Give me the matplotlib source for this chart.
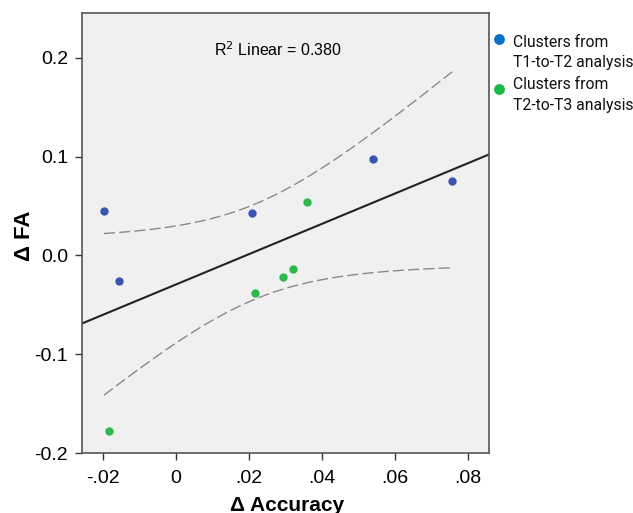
import numpy as np
import matplotlib
matplotlib.use("Agg")
import matplotlib.pyplot as plt
from matplotlib.lines import Line2D

plt.rcParams['font.family'] = ['Liberation Sans', 'DejaVu Sans']
LEG_FAMILY, LEG_SIZE = ['Roboto', 'DejaVu Sans'], 11.3

# Data
blue_x = [-0.0197, -0.0156, 0.0210, 0.0539, 0.0757]
blue_y = [0.0446, -0.0263, 0.0432, 0.0973, 0.0750]
green_x = [-0.0182, 0.0216, 0.0293, 0.0321, 0.0359]
green_y = [-0.1776, -0.0380, -0.0220, -0.0139, 0.0540]
xticks = [-0.02, 0.0, 0.02, 0.04, 0.06, 0.08]
xticklabels = ['-.02', '0', '.02', '.04', '.06', '.08']
yticks = [-0.2, -0.1, 0.0, 0.1, 0.2]
yticklabels = ['-0.2', '-0.1', '0.0', '0.1', '0.2']
legend_lines = [['Clusters from', 'T1-to-T2 analysis'], ['Clusters from', 'T2-to-T3 analysis']]
legend_colors = ['#0a6fc8', '#1cb84a']

W, H = 633, 513
fig = plt.figure(figsize=(W/100, H/100), dpi=100)
ax = fig.add_axes([82/W, 1-453/H, (489-82)/W, (453-13.3)/H])
ax.set_facecolor('#f0f0f0')

x = np.array(blue_x + green_x)
y = np.array(blue_y + green_y)
n = len(x)
b, a = np.polyfit(x, y, 1)
xl = np.array([-0.0257, 0.0858])
ax.plot(xl, a + b*xl, color='#222222', lw=1.5, zorder=2)

# 95% confidence interval of the mean
resid = y - (a + b*x)
s = np.sqrt(np.sum(resid**2)/(n-2))
xs = np.linspace(x.min(), x.max(), 200)
t = 2.306
se = s*np.sqrt(1/n + (xs - x.mean())**2/np.sum((x - x.mean())**2))
ax.plot(xs, a + b*xs + t*se, color='#8a8a8a', lw=1.0, ls=(0, (8, 3)), zorder=2)
ax.plot(xs, a + b*xs - t*se, color='#8a8a8a', lw=1.0, ls=(0, (8, 3)), zorder=2)

ax.scatter(blue_x, blue_y, s=36, color='#3a55b0', zorder=3, linewidths=0)
ax.scatter(green_x, green_y, s=36, color='#2cb84a', zorder=3, linewidths=0)

ax.set_xlim(-0.0257, 0.0858)
ax.set_ylim(-0.2, 0.245)
ax.set_xticks(xticks)
ax.set_xticklabels(xticklabels)
ax.set_yticks(yticks)
ax.set_yticklabels(yticklabels)
ax.tick_params(labelsize=14, length=5, width=1, color='#333333')
ax.tick_params(axis='x', pad=7)
ax.tick_params(axis='y', pad=5)
for sp in ax.spines.values():
    sp.set_color('#555555')
    sp.set_linewidth(1.2)

fig.text(287/W, 1-511/H, 'Δ Accuracy', fontsize=15, fontweight='bold',
         ha='center', va='baseline')
fig.text(24/W, 1-236/H, 'Δ FA', fontsize=16, fontweight='bold',
         ha='center', va='center', rotation=90)

fig.text(278/W, 1-56/H, 'R$^2$ Linear = 0.380', ha='center', va='baseline', fontsize=11.5)

# Legend
dot_y = [38.5, 88.5]
for i, (lines, col) in enumerate(zip(legend_lines, legend_colors)):
    fig.add_artist(Line2D([499/W], [1-dot_y[i]/H], marker='o', ls='', color=col,
                          markersize=7.8, markeredgewidth=0, transform=fig.transFigure))
    base = 46.7 + i*42.5
    for j, txt in enumerate(lines):
        fig.text(513/W, 1-(base + j*20.7)/H, txt, family=LEG_FAMILY, fontsize=LEG_SIZE,
                 ha='left', va='baseline', color='#111111')

fig.savefig('out.png', dpi=100)
